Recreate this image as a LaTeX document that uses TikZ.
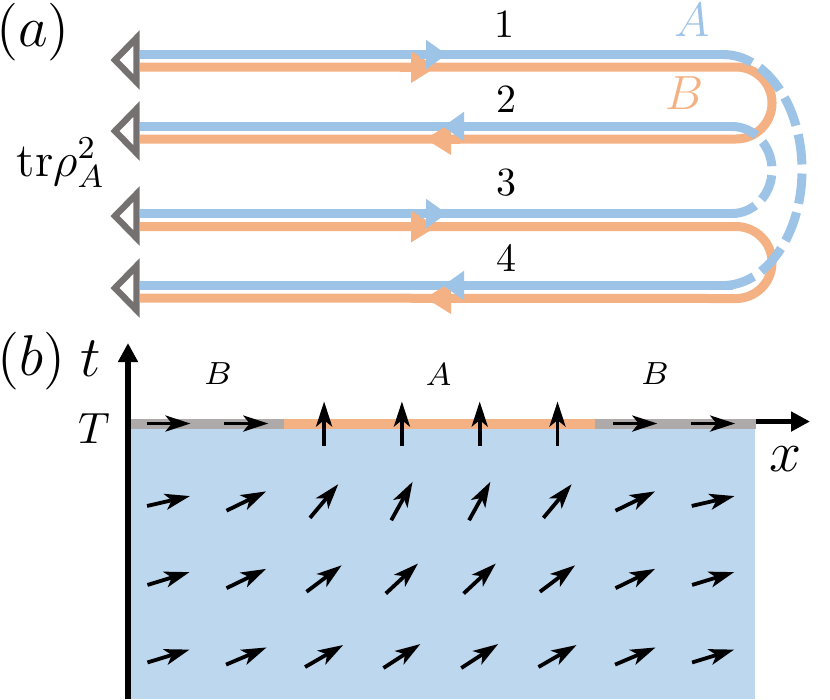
\documentclass[tikz,border=0pt]{standalone}
\usetikzlibrary{arrows.meta}
\definecolor{ContourBlue}{HTML}{9DC3E6}
\definecolor{ContourOrange}{HTML}{F4B183}
\definecolor{ProbeGray}{HTML}{767171}
\definecolor{BoundaryGray}{HTML}{AEAAAA}
\definecolor{BulkBlue}{HTML}{BDD7EE}

\begin{document}
\begin{tikzpicture}[
	x=0.25pt, y=-0.25pt,
	% contour strands
	blue strand/.style={draw=ContourBlue, line width=2.25pt},
	orange strand/.style={draw=ContourOrange, line width=2.25pt},
	blue head/.style={blue strand, -{Triangle[length=5.25pt,width=7pt]}},
	orange head/.style={orange strand, -{Triangle[length=6.5pt,width=7.5pt]}},
	glue/.style={blue strand, dash pattern=on #1 off 2.25pt},
	probe/.style={draw=ProbeGray, line width=1.6pt, line join=miter},
	% spins, axes, boundary
	spin/.style={line width=0.95pt, -{Stealth[length=6.25pt,width=4pt,inset=1.6pt]}},
	axis/.style={line width=1.45pt, -{Triangle[length=4.75pt,width=4.75pt]}},
	bar/.style={line width=2.5pt, draw=#1},
	lbl/.style={inner sep=0pt, font=\fontsize{#1}{#1}\selectfont}
	]
	
	\useasboundingbox (0,0) rectangle (830,699);
	
	% ================= (a) =================
	\node[lbl=14] (panelA) at (33,32) {$(a)$};
	\node[lbl=12, anchor=base west] (trace) at (16,176) {$\mathrm{tr}\rho_A^2$};
	
	\foreach \k/\yc in {1/60, 2/131, 3/216, 4/288}
		\draw[probe] (136.5,\yc-22) -- (136.5,\yc+22) -- (115,\yc) -- cycle;
	
	% blue strands
	\foreach \k/\yb/\xe in {1/54.5/723, 2/126.5/732, 3/213.5/732, 4/285.5/733} {
		\coordinate (bs\k) at (140,\yb);
		\coordinate (be\k) at (\xe,\yb);
		\draw[blue strand] (bs\k) -- (be\k);
	}
	
	% orange loops
	\foreach \k/\ytop/\ybot in {1/67/139, 2/226.5/298} {
		\coordinate (os\k) at (140,\ytop);
		\coordinate (oe\k) at (140,\ybot);
		\draw[orange strand] (os\k) -- (736,\ytop)
			arc[start angle=-90, end angle=90, radius=36] -- (oe\k);
	}
	
	% dashed gluing of the blue strands
	\draw[glue=7.6pt] (be1) arc[start angle=-90, end angle=90, x radius=79, y radius=115.5];
	\draw[glue=6.6pt] (be2) arc[start angle=-90, end angle=90, x radius=40, y radius=43.5];
	
	% direction heads
	\foreach \yb/\yo in {54.5/67, 213.5/226.5} {
		\draw[orange head] (400,\yo) -- (437,\yo);
		\draw[blue head] (420,\yb) -- (447,\yb);
	}
	\foreach \yb/\yo in {126.5/139, 285.5/298} {
		\draw[orange head] (460,\yo) -- (425,\yo);
		\draw[blue head] (470,\yb) -- (443,\yb);
	}
	
	\foreach \k/\xx/\yy in {1/504/24.5, 2/506/99.5, 3/506/182.5, 4/506/257.5}
		\node[lbl=10] (num\k) at (\xx,\yy) {\k};
	\node[lbl=13, text=ContourBlue] (labA) at (692.5,20.5) {$A$};
	\node[lbl=13, text=ContourOrange] (labB) at (685,93.5) {$B$};
	
	% ================= (b) =================
	\node[lbl=14.5] (panelB) at (31.5,361) {$(b)$};
	\node[lbl=14] (tlab) at (91,359) {$t$};
	\node[lbl=10.5] (Tlab) at (94,429) {$T$};
	\node[lbl=14] (xlab) at (785,459) {$x$};
	
	\fill[BulkBlue] (130,424) rectangle (755,699);
	
	\coordinate (tbot) at (128,699);
	\coordinate (ttop) at (128,343);
	\coordinate (xleft) at (128,421.5);
	\coordinate (xright) at (810,421.5);
	\draw[axis] (xleft) -- (xright);
	
	\draw[bar=BoundaryGray] (130,423.5) -- (284,423.5);
	\draw[bar=ContourOrange] (284,423.5) -- (595,423.5);
	\draw[bar=BoundaryGray] (595,423.5) -- (756,423.5);
	
	\draw[axis] (tbot) -- (ttop);
	
	% spin field
	\foreach \yr/\angles in {423.5/{0,0,90,90,90,90,0,0},
			501/{13,26,50,61,61,50,26,13},
			578.5/{17,26,37,43,43,37,26,17},
			656/{17,23,30,33,33,30,23,17}}
		\foreach \a [count=\c] in \angles {
			\pgfmathsetmacro\xc{168.5+77.8*(\c-1)}
			\draw[spin] ({\xc-22*cos(\a)},{\yr+22*sin(\a)}) -- ({\xc+22*cos(\a)},{\yr-22*sin(\a)});
		}
	
	\node[lbl=8.5] (regB1) at (218,373.5) {$B$};
	\node[lbl=8.5] (regA) at (438.5,374.5) {$A$};
	\node[lbl=8.5] (regB2) at (655,373.5) {$B$};
	
\end{tikzpicture}
\end{document}
